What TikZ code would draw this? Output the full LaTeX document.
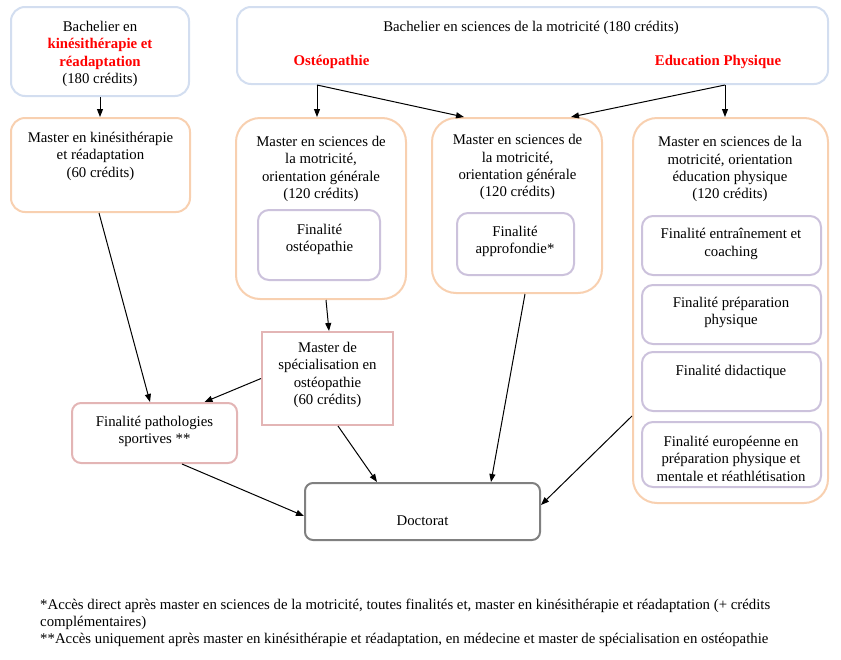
\documentclass[tikz,border=0pt]{standalone}
\usepackage{fontspec}
\setmainfont{Liberation Serif}
\usetikzlibrary{arrows.meta}
\definecolor{bluebd}{HTML}{D3DEF0}
\definecolor{orangebd}{HTML}{F8D0B0}
\definecolor{purplebd}{HTML}{CCC2DC}
\definecolor{pinkbd}{HTML}{E3B5B5}
\definecolor{graybd}{HTML}{808080}
\definecolor{redtxt}{HTML}{FF0000}
\begin{document}
\begin{tikzpicture}[x=1pt,y=-1pt,
  font=\fontsize{14.8}{17.4}\selectfont,
  box/.style={draw, line width=2pt, inner sep=0pt, fill=white},
  bluebox/.style={box, draw=bluebd, rounded corners=14pt},
  orangebox/.style={box, draw=orangebd, rounded corners=24pt},
  orangesmall/.style={box, draw=orangebd, rounded corners=14pt},
  purplebox/.style={box, draw=purplebd, rounded corners=11pt},
  pinkrect/.style={box, draw=pinkbd},
  pinkbox/.style={box, draw=pinkbd, rounded corners=9pt},
  graybox/.style={box, draw=graybd, rounded corners=8pt},
  txt/.style={align=center, inner sep=0pt, yshift=-1.8pt},
  redb/.style={txt, text=redtxt, font=\fontsize{14.8}{17.4}\selectfont\bfseries},
  arr/.style={-{Triangle[length=8pt,width=6pt]}, line width=1pt, black}]
\useasboundingbox (0,0) rectangle (841,659);

% --- boxes ---
\node[bluebox, minimum width=178pt, minimum height=89pt] (A) at (100,51.5) {};
\node[bluebox, minimum width=591pt, minimum height=77pt] (B) at (532.5,45.5) {};
\node[orangesmall, minimum width=179pt, minimum height=94pt] (C) at (100.5,165) {};
\node[orangebox, minimum width=170pt, minimum height=181pt] (D) at (321,208.5) {};
\node[orangebox, minimum width=170pt, minimum height=175pt] (E) at (517,205.5) {};
\node[orangebox, minimum width=195pt, minimum height=385pt] (F) at (730.5,310.5) {};
\node[purplebox, minimum width=122pt, minimum height=70pt] (D1) at (319,245) {};
\node[purplebox, minimum width=117pt, minimum height=62pt] (E1) at (515.5,244) {};
\node[purplebox, minimum width=179pt, minimum height=59pt] (F1) at (731.5,245.5) {};
\node[purplebox, minimum width=179pt, minimum height=59pt] (F2) at (731.5,314.5) {};
\node[purplebox, minimum width=179pt, minimum height=59pt] (F3) at (731.5,381.5) {};
\node[purplebox, minimum width=179pt, minimum height=65pt] (F4) at (731.5,454.5) {};
\node[pinkrect, minimum width=131pt, minimum height=93pt] (G) at (327.5,378.5) {};
\node[pinkbox, minimum width=165pt, minimum height=60pt] (H) at (154.5,433) {};
\node[graybox, minimum width=235pt, minimum height=57pt] (I) at (422.5,511.5) {};

% --- texts ---
\node[txt] (tA) at (100,52) {Bachelier en\\
  \textcolor{redtxt}{\bfseries kinésithérapie et}\\
  \textcolor{redtxt}{\bfseries réadaptation}\\
  (180 crédits)};
\node[txt] (tB) at (531,26) {Bachelier en sciences de la motricité (180 crédits)};
\node[redb] (tBo) at (331.5,60) {Ostéopathie};
\node[redb] (tBe) at (718,60) {Education Physique};
\node[txt] (tC) at (100.5,154.5) {Master en kinésithérapie\\ et réadaptation\\ (60 crédits)};
\node[txt] (tD) at (321,167) {Master en sciences de\\ la motricité,\\ orientation générale\\ (120 crédits)};
\node[txt] (tE) at (517.5,165.5) {Master en sciences de\\ la motricité,\\ orientation générale\\ (120 crédits)};
\node[txt] (tF) at (730,167.5) {Master en sciences de la\\ motricité, orientation\\ éducation physique\\ (120 crédits)};
\node[txt] (tD1) at (319.5,237.5) {Finalité\\ ostéopathie};
\node[txt] (tE1) at (515,239.5) {Finalité\\ approfondie*};
\node[txt] (tF1) at (731,242) {Finalité entraînement et\\ coaching};
\node[txt] (tF2) at (731,310.5) {Finalité préparation\\ physique};
\node[txt] (tF3) at (731,370) {Finalité didactique};
\node[txt] (tF4) at (731,457) {Finalité européenne en\\ préparation physique et\\ mentale et réathlétisation};
\node[txt] (tG) at (327.5,373) {Master de\\ spécialisation en\\ ostéopathie\\ (60 crédits)};
\node[txt] (tH) at (154.5,429.5) {Finalité pathologies\\ sportives **};
\node[txt] (tI) at (422.5,518.5) {Doctorat};
\node[inner sep=0pt, align=left, anchor=west, yshift=-1.8pt] (foot) at (40,621)
  {*Accès direct après master en sciences de la motricité, toutes finalités et, master en kinésithérapie et réadaptation (+ crédits\\
   complémentaires)\\
   **Accès uniquement après master en kinésithérapie et réadaptation, en médecine et master de spécialisation en ostéopathie};

% --- connectors ---
\coordinate (bo) at (317,85);
\coordinate (bep) at (725,85);
\draw[arr] (A.south) -- (A.south |- C.north);
\draw[arr] (bo) -- (bo |- D.north);
\draw[arr] (bo) -- ([xshift=-53pt]E.north);
\draw[arr] (bep) -- ([xshift=54pt]E.north);
\draw[arr] (bep) -- (bep |- F.north);
\draw[arr] ([xshift=-1.5pt]C.south) -- ([xshift=-4.5pt]H.north);
\draw[arr] ([xshift=5pt]D.south) -- ([xshift=1.5pt]G.north);
\draw[arr] (G.west) -- ([xshift=50pt]H.north);
\draw[arr] ([xshift=10.5pt]G.south) -- ([xshift=-45.5pt]I.north);
\draw[arr] ([xshift=27.5pt]H.south) -- ([yshift=-4.5pt]I.west);
\draw[arr] ([xshift=8pt]E.south) -- ([xshift=68.5pt]I.north);
\draw[arr] ([yshift=-105.5pt]F.west) -- ([yshift=6.5pt]I.east);
\end{tikzpicture}
\end{document}
